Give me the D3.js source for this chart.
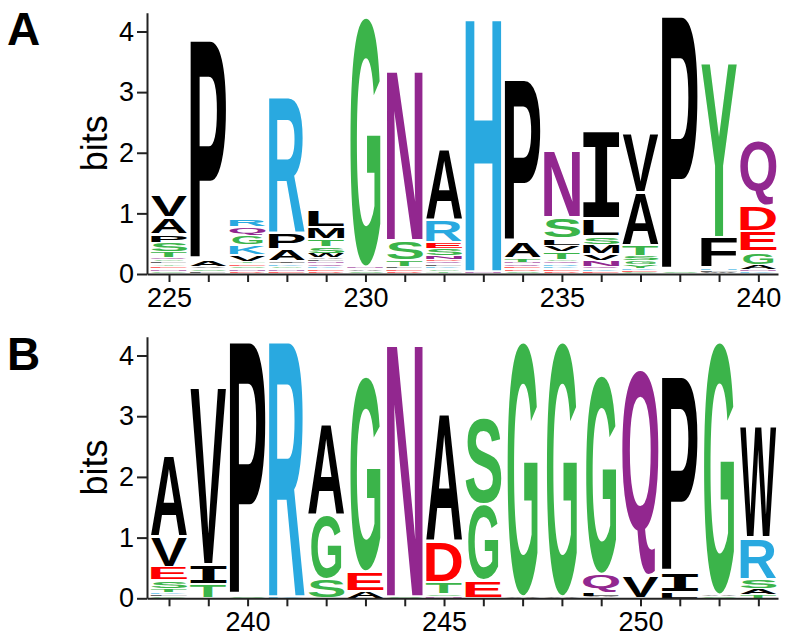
<!DOCTYPE html>
<html><head><meta charset="utf-8">
<script src="https://cdn.jsdelivr.net/npm/d3@7"></script>
<style>body{margin:0;background:#fff}svg{display:block}</style>
</head><body>
<svg id="chart" width="790" height="644"></svg>
<script>
// ---------------- DATA ----------------
const positionsA = [225,226,227,228,229,230,231,232,233,234,235,236,237,238,239,240];
// each stack: [letter, bits] from bottom to top
const stacksA = [
  [["C",0.04],["N",0.04],["E",0.04],["Y",0.04],["L",0.04],["G",0.03],["Q",0.04],["T",0.10],["S",0.15],["P",0.14],["A",0.28],["V",0.38]],
  [["F",0.04],["S",0.04],["V",0.04],["A",0.10],["P",3.64]],
  [["D",0.04],["N",0.04],["S",0.04],["E",0.04],["T",0.05],["V",0.10],["K",0.17],["G",0.15],["Q",0.15],["R",0.14]],
  [["E",0.04],["N",0.04],["G",0.04],["K",0.04],["I",0.05],["A",0.20],["P",0.28],["R",2.24]],
  [["D",0.04],["E",0.04],["K",0.04],["Q",0.04],["N",0.04],["F",0.04],["A",0.03],["W",0.07],["S",0.10],["T",0.14],["M",0.20],["L",0.30]],
  [["S",0.04],["A",0.04],["N",0.04],["G",4.12]],
  [["D",0.04],["E",0.04],["L",0.04],["T",0.10],["S",0.33],["N",2.83]],
  [["T",0.04],["G",0.04],["K",0.04],["L",0.04],["Q",0.04],["D",0.04],["N",0.06],["S",0.12],["E",0.10],["R",0.38],["A",1.17]],
  [["N",0.04],["H",4.22]],
  [["S",0.04],["D",0.04],["E",0.04],["Q",0.04],["N",0.04],["T",0.06],["A",0.28],["P",2.67]],
  [["D",0.04],["E",0.04],["K",0.04],["R",0.04],["Q",0.04],["G",0.04],["T",0.13],["V",0.10],["L",0.11],["S",0.35],["N",1.12]],
  [["E",0.04],["K",0.04],["Q",0.04],["N",0.10],["V",0.11],["M",0.15],["S",0.14],["L",0.30],["I",1.43]],
  [["C",0.03],["E",0.03],["K",0.04],["Y",0.06],["G",0.06],["S",0.08],["T",0.18],["A",0.87],["V",0.97]],
  [["S",0.04],["P",4.22]],
  [["W",0.03],["L",0.03],["H",0.04],["F",0.50],["Y",2.88]],
  [["K",0.04],["N",0.04],["A",0.07],["G",0.22],["E",0.33],["D",0.42],["Q",1.09]]
];
const positionsB = [238,239,240,241,242,243,244,245,246,247,248,249,250,251,252,253];
const stacksB = [
  [["C",0.03],["L",0.03],["K",0.04],["T",0.06],["S",0.14],["E",0.22],["V",0.50],["A",1.34]],
  [["T",0.24],["I",0.32],["V",2.91]],
  [["S",0.03],["P",4.20]],
  [["K",0.03],["R",4.20]],
  [["S",0.32],["G",1.05],["A",1.52]],
  [["A",0.12],["E",0.32],["G",3.22]],
  [["S",0.03],["N",4.20]],
  [["N",0.03],["S",0.03],["T",0.20],["D",0.68],["A",2.11]],
  [["E",0.30],["G",1.25],["S",1.42]],
  [["A",0.03],["G",4.20]],
  [["A",0.03],["G",4.20]],
  [["A",0.04],["L",0.06],["Q",0.30],["G",3.28]],
  [["V",0.38],["Q",3.39]],
  [["L",0.10],["I",0.32],["P",3.24]],
  [["S",0.03],["A",0.03],["G",4.17]],
  [["T",0.06],["A",0.10],["S",0.16],["R",0.68],["W",1.83]]
];
const yTickValues = [0,1,2,3,4];
const xLabelsA = [225,230,235,240];
const xLabelsB = [240,245,250];
const panelNames = ["A","B"];
const yTitle = "bits";

// ---------------- STYLE ----------------
const colorOf = {
  G:"#3bb44a",S:"#3bb44a",T:"#3bb44a",Y:"#3bb44a",C:"#3bb44a",
  N:"#92278f",Q:"#92278f",
  K:"#29a9e0",R:"#29a9e0",H:"#29a9e0",
  D:"#ff0000",E:"#ff0000"
};
const widthFactor = {G:0.83};
const FONT = '"Liberation Sans", Arial, Helvetica, sans-serif';
const glyphFont = {I:'"DejaVu Sans Mono"'};

const svg = d3.select("#chart");
const ctx = document.createElement("canvas").getContext("2d");
const metrics = {};
function fontFor(ch){ return glyphFont[ch] || '"Liberation Sans"'; }
function metric(ch){
  if(!metrics[ch]){
    ctx.font = 'bold 100px ' + fontFor(ch);
    const m = ctx.measureText(ch);
    metrics[ch] = {L:m.actualBoundingBoxLeft, R:m.actualBoundingBoxRight, A:m.actualBoundingBoxAscent, D:m.actualBoundingBoxDescent};
  }
  return metrics[ch];
}

const panels = [
  {name:panelNames[0], pos:positionsA, stacks:stacksA, labels:xLabelsA, domain:[224.44,240.5], yr:[274,12.7], labelY:45},
  {name:panelNames[1], pos:positionsB, stacks:stacksB, labels:xLabelsB, domain:[237.44,253.5], yr:[598.3,336.7], labelY:370}
];

panels.forEach(p=>{
  const x = d3.scaleLinear().domain(p.domain).range([147,778]);
  const y = d3.scaleLinear().domain([0,4.31]).range(p.yr);
  const g = svg.append("g");
  const step = x(1)-x(0);
  const bw = step*0.92;

  p.pos.forEach((pos,i)=>{
    let cum = 0;
    p.stacks[i].forEach(([ch,h])=>{
      const y0 = y(cum), y1 = y(cum+h);
      cum += h;
      const hpx = y0-y1;
      let pad = Math.min(1.2, hpx*0.1);
      if(hpx < 3.5) pad = hpx*0.35;   // very small letters render as thin strokes
      const w = bw*(widthFactor[ch]||1);
      const bx = x(pos)-w/2, by = y1+pad, bh = hpx-2*pad;
      if(bh<=0) return;
      const m = metric(ch);
      const sx = w/(m.L+m.R), sy = bh/(m.A+m.D);
      g.append("text")
        .attr("font-family",fontFor(ch)).attr("font-weight","bold").attr("font-size",100)
        .attr("fill",colorOf[ch]||"#000")
        .attr("opacity", hpx < 3.5 ? 0.6 : 1)
        .attr("transform",`translate(${bx},${by}) scale(${sx},${sy}) translate(${m.L},${m.A})`)
        .text(ch);
    });
  });

  const ya = g.append("g").attr("transform","translate(147,0)")
    .call(d3.axisLeft(y).tickValues(yTickValues).tickSize(10).tickSizeOuter(0).tickPadding(3).tickFormat(d3.format("d")));
  const xa = g.append("g").attr("transform",`translate(0,${p.yr[0]})`)
    .call(d3.axisBottom(x).tickValues(p.pos).tickSize(8).tickSizeOuter(0).tickPadding(6)
      .tickFormat(d=>p.labels.includes(d)?d:""));
  [ya,xa].forEach(a=>{
    a.select(".domain").attr("stroke","#222").attr("stroke-width",2);
    a.selectAll(".tick line").attr("stroke","#222").attr("stroke-width",2);
    a.selectAll("text").attr("font-family",FONT).attr("font-size",27).attr("fill","#000");
  });

  g.append("text").attr("transform",`translate(107,${(p.yr[0]+p.yr[1])/2}) rotate(-90)`)
    .attr("text-anchor","middle").attr("font-family",FONT).attr("font-size",36).text(yTitle);
  g.append("text").attr("x",7).attr("y",p.labelY).attr("font-family",FONT)
    .attr("font-weight","bold").attr("font-size",46).text(p.name);
});
</script>
</body></html>
